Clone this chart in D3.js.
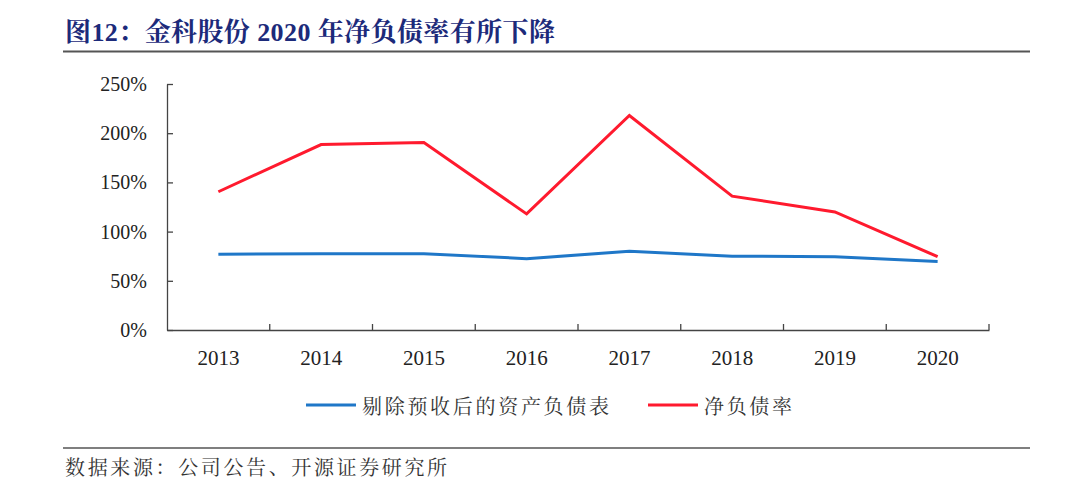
<!DOCTYPE html>
<html><head><meta charset="utf-8">
<script src="https://cdn.jsdelivr.net/npm/d3@7/dist/d3.min.js"></script>
<style>body{margin:0;background:#fff}</style>
</head><body>
<svg id="c" width="1080" height="490"></svg>
<script>
const years = ["2013","2014","2015","2016","2017","2018","2019","2020"];
const blueSeries = [77, 77.5, 77.5, 72.5, 80, 75, 74.5, 69.5];
const redSeries = [140.5, 188.5, 190.5, 118, 218, 136, 120, 74.5];
const yTicks = [0, 50, 100, 150, 200, 250];
const seriesNames = ["剔除预收后的资产负债表", "净负债率"];
const title = "图12：金科股份 2020 年净负债率有所下降";
const source = "数据来源：公司公告、开源证券研究所";

const svg = d3.select("#c");
const cjk = "'Liberation Serif','Noto Serif CJK SC','Noto Sans CJK SC',serif";
const L = 167, R = 989, T = 84, B = 330;
const x = d3.scaleBand().domain(years).range([L, R]);
const y = d3.scaleLinear().domain([0, 250]).range([B, T]);

// title
svg.append("text").attr("x", 65).attr("y", 41).attr("font-family", cjk)
  .attr("font-size", 26).attr("font-weight", "bold").attr("fill", "#1c2a7a")
  .attr("textLength", 490).attr("lengthAdjust", "spacing").text(title);
svg.append("line").attr("x1", 63).attr("x2", 1030).attr("y1", 51.5).attr("y2", 51.5)
  .attr("stroke", "#555").attr("stroke-width", 2);

// axes
const yAxis = d3.axisLeft(y).tickValues(yTicks).tickFormat(d => d + "%").tickSizeInner(-6).tickSizeOuter(0).tickPadding(20);
const gy = svg.append("g").attr("transform", `translate(${L},0)`).call(yAxis);
gy.selectAll("text").attr("font-family", "'Liberation Serif',serif").attr("font-size", 20).attr("fill", "#222");
gy.selectAll("line,path").attr("stroke", "#444").attr("stroke-width", 1.3);

const xAxis = d3.axisBottom(x).tickSize(0).tickPadding(20);
const gx = svg.append("g").attr("transform", `translate(0,${B})`).call(xAxis);
gx.select("path").attr("stroke", "#444").attr("stroke-width", 1.3);
gx.selectAll("text").attr("font-family", "'Liberation Serif',serif").attr("font-size", 21).attr("fill", "#222");
const bounds = years.map(d => x(d) + x.bandwidth());
gx.selectAll(".bt").data(bounds).enter().append("line")
  .attr("x1", d => d).attr("x2", d => d).attr("y1", 0).attr("y2", -6)
  .attr("stroke", "#444").attr("stroke-width", 1.3);

// lines
const line = d3.line().x((d, i) => x(years[i]) + x.bandwidth() / 2).y(d => y(d));
svg.append("path").datum(blueSeries).attr("d", line).attr("fill", "none")
  .attr("stroke", "#1f77c8").attr("stroke-width", 3);
svg.append("path").datum(redSeries).attr("d", line).attr("fill", "none")
  .attr("stroke", "#ff1a2e").attr("stroke-width", 3);

// legend
const lg = [{x: 306, c: "#1f77c8", t: seriesNames[0], w: 247}, {x: 648, c: "#ff1a2e", t: seriesNames[1], w: 88}];
lg.forEach(l => {
  svg.append("line").attr("x1", l.x).attr("x2", l.x + 50).attr("y1", 405).attr("y2", 405)
    .attr("stroke", l.c).attr("stroke-width", 3);
  svg.append("text").attr("x", l.x + 56).attr("y", 414).attr("font-family", cjk)
    .attr("font-size", 20).attr("fill", "#333")
    .attr("textLength", l.w).attr("lengthAdjust", "spacing").text(l.t);
});

// source
svg.append("line").attr("x1", 63).attr("x2", 1030).attr("y1", 448).attr("y2", 448)
  .attr("stroke", "#555").attr("stroke-width", 1.5);
svg.append("text").attr("x", 65).attr("y", 475).attr("font-family", cjk)
  .attr("font-size", 20).attr("fill", "#333")
  .attr("textLength", 382).attr("lengthAdjust", "spacing").text(source);
</script>
</body></html>
